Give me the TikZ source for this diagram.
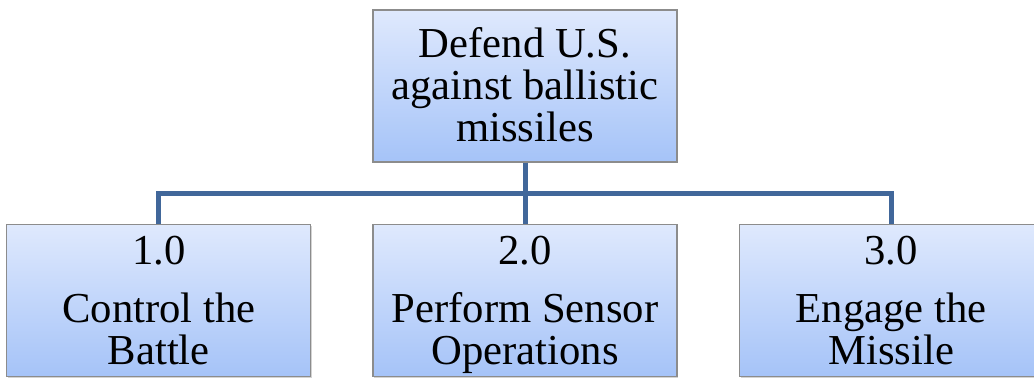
\documentclass[tikz,border=0pt]{standalone}
\usepackage{fontspec}
\setmainfont{Liberation Serif}
\usetikzlibrary{positioning,calc,shadows}

\definecolor{boxtop}{HTML}{DFE9FD}
\definecolor{boxbottom}{HTML}{A5C3F8}
\definecolor{boxline}{HTML}{8C8C8C}
\definecolor{linkblue}{HTML}{41679A}

\newcommand{\topstrut}{\rule{0pt}{30pt}}

\begin{document}
\begin{tikzpicture}[x=0.75pt,y=0.75pt,
    func/.style={rectangle,
          draw=boxline,
          line width=0.9pt,
          top color=boxtop,
          bottom color=boxbottom,
          drop shadow={shadow xshift=1pt,shadow yshift=-1pt,opacity=0.35},
          minimum width=228pt,
          minimum height=114pt,
          inner sep=0pt,
          align=center,
          font=\fontsize{32}{31.5}\selectfont},
    link/.style={draw=linkblue, line width=3.75pt}]

   \useasboundingbox (0,0) rectangle (1034,-378);

   \node[func] (goal) at (525,-86) {\topstrut Defend U.S.\\against ballistic\\missiles\strut};
   \node[func,
          below=45.75pt of goal] (sensor) {\topstrut 2.0\\[12pt]Perform Sensor\\Operations\strut};
   \node[func,
          left=45.75pt of sensor] (battle) {\topstrut 1.0\\[12pt]Control the\\Battle\strut};
   \node[func,
          right=45.75pt of sensor] (engage) {\topstrut 3.0\\[12pt]Engage the\\Missile\strut};

    % Connect the boxes
    \coordinate (bus) at ($(goal.south)!0.5!(sensor.north)$);
    \draw[link] (goal.south) -- (sensor.north);
    \draw[link] (battle.north) |- (bus) -| (engage.north);
\end{tikzpicture}
\end{document}
